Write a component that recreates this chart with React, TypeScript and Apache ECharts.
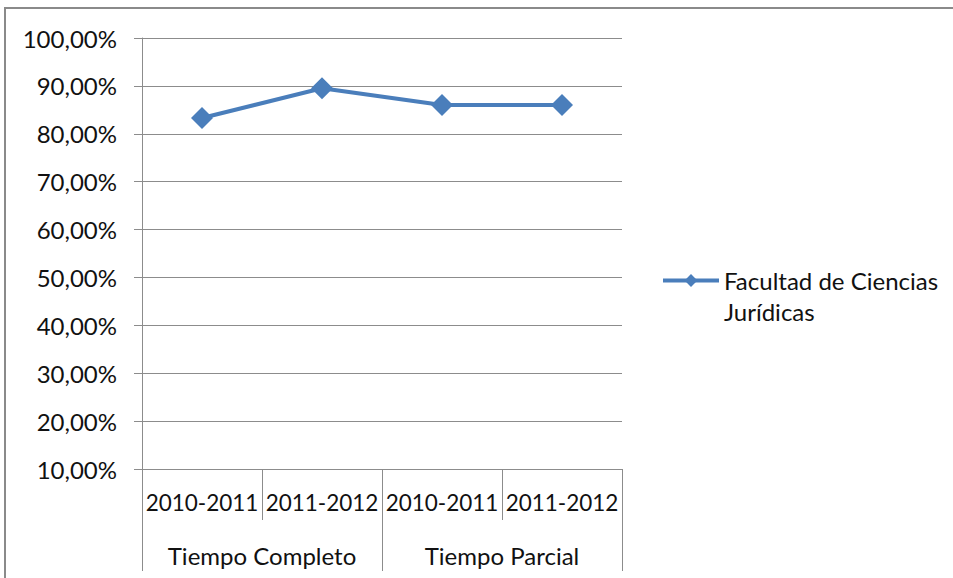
import React, { useEffect, useRef } from "react";
import * as echarts from "echarts";

const yearLabels = ["2010-2011", "2011-2012", "2010-2011", "2011-2012"];
const groupLabels = ["Tiempo Completo", "Tiempo Parcial"];
const seriesName = "Facultad de Ciencias\nJurídicas";
const values = [83.3, 89.5, 86.0, 86.0];
const yMin = 10;
const yMax = 100;
const yStep = 10;

const FONT = "Lato";
const TEXT = "#111111";
const GRID = "#8c8c8c";
const BLUE = "#4a7ebb";

export default function App() {
  const ref = useRef<HTMLDivElement>(null);
  useEffect(() => {
    if (!ref.current) return;
    const chart = echarts.init(ref.current, undefined, { renderer: "svg" });
    chart.setOption({
      animation: false,
      backgroundColor: "#ffffff",
      textStyle: { fontFamily: FONT },
      grid: { left: 142, right: 331, top: 38, bottom: 109, containLabel: false },
      graphic: [
        {
          type: "rect",
          shape: { x: 5, y: 8, width: 1000, height: 1000 },
          style: { fill: "none", stroke: "#8a8a8a", lineWidth: 2 },
          silent: true,
        },
      ],
      legend: {
        left: 661,
        top: 234,
        padding: 0,
        orient: "vertical",
        itemWidth: 56,
        itemHeight: 16,
        data: [seriesName],
        lineStyle: { width: 4, color: BLUE },
        itemStyle: { color: BLUE },
        formatter: (name: string) => " \n" + name,
        textStyle: {
          fontFamily: FONT,
          fontSize: 24,
          color: TEXT,
          lineHeight: 31,
        },
      },
      xAxis: [
        {
          type: "category",
          data: yearLabels,
          boundaryGap: true,
          position: "bottom",
          axisLine: { show: true, lineStyle: { color: GRID, width: 1 } },
          axisTick: { show: true, length: 51, lineStyle: { color: GRID } },
          axisLabel: { fontFamily: FONT, fontSize: 22.5, color: TEXT, margin: 22, interval: 0 },
          splitLine: { show: false },
        },
        {
          type: "category",
          data: groupLabels,
          boundaryGap: true,
          position: "bottom",
          offset: 51,
          axisLine: { show: false },
          axisTick: { show: true, length: 51, lineStyle: { color: GRID } },
          axisLabel: { fontFamily: FONT, fontSize: 24, color: TEXT, margin: 23, interval: 0 },
          splitLine: { show: false },
        },
      ],
      yAxis: {
        type: "value",
        min: yMin,
        max: yMax,
        interval: yStep,
        axisLine: { show: true, lineStyle: { color: GRID } },
        axisTick: { show: true, length: 8, lineStyle: { color: GRID } },
        splitLine: { show: true, lineStyle: { color: GRID, width: 1 } },
        axisLabel: {
          fontFamily: FONT,
          fontSize: 24,
          color: TEXT,
          margin: 25,
          formatter: (v: number) => v.toFixed(2).replace(".", ",") + "%",
        },
      },
      series: [
        {
          name: seriesName,
          type: "line",
          xAxisIndex: 0,
          data: values,
          symbol: "diamond",
          symbolSize: 22,
          lineStyle: { color: BLUE, width: 4 },
          itemStyle: { color: BLUE },
        },
      ],
    });
    return () => chart.dispose();
  }, []);
  return (
    <div
      ref={ref}
      style={{ position: "fixed", left: 0, top: 0, width: 953, height: 578 }}
    />
  );
}
